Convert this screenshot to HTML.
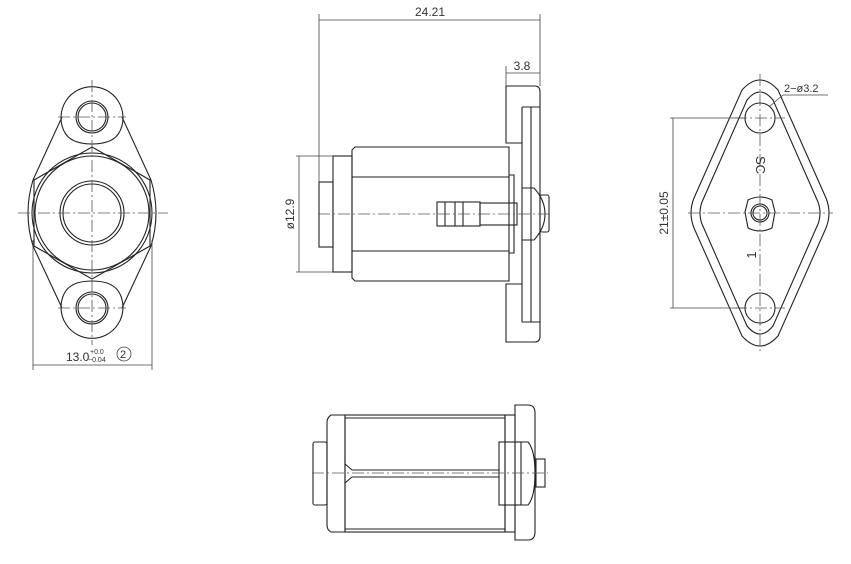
<!DOCTYPE html>
<html><head><meta charset="utf-8"><style>
html,body{margin:0;padding:0;background:#fff;}
svg{display:block;}
text{font-family:"Liberation Sans",sans-serif;fill:#333;}
</style></head><body>
<svg width="851" height="564" viewBox="0 0 851 564" xmlns="http://www.w3.org/2000/svg">
<g fill="none" stroke="#222" stroke-width="1.1">
<!-- LEFT VIEW -->
<path d="M64 131 A31 31 0 1 1 120 131"/>
<path d="M64 131 Q70 144 92 144 Q114 144 120 131"/>
<circle cx="92" cy="117" r="16"/><circle cx="92" cy="117" r="14"/>
<path d="M64 294 A31 31 0 1 0 120 294"/>
<path d="M64 294 Q70 281 92 281 Q114 281 120 294"/>
<circle cx="92" cy="308" r="16"/><circle cx="92" cy="308" r="14"/>
<line x1="62" y1="117" x2="33" y2="180"/><line x1="122" y1="117" x2="151" y2="180"/>
<line x1="62" y1="308" x2="33" y2="246"/><line x1="122" y1="308" x2="151" y2="246"/>
<path d="M33 180 Q23 213 33 246"/><path d="M151 180 Q161 213 151 246"/>
<polygon points="92,147 150,180 150,246 92,279 34,246 34,180"/>
<circle cx="92" cy="213" r="60"/><circle cx="92" cy="213" r="57"/>
<circle cx="92" cy="213" r="32"/><circle cx="92" cy="213" r="29"/>
</g>
<g fill="none" stroke="#555" stroke-width="0.8" stroke-dasharray="12,3,2,3">
<line x1="92" y1="80" x2="92" y2="345"/><line x1="18" y1="213" x2="168" y2="213"/>
<line x1="58" y1="117" x2="126" y2="117"/><line x1="58" y1="308" x2="126" y2="308"/>
</g>
<g stroke="#444" stroke-width="0.8">
<line x1="33" y1="240" x2="33" y2="370"/><line x1="152" y1="240" x2="152" y2="370"/>
<line x1="33" y1="365" x2="152" y2="365"/>
</g>
<text x="66" y="361" font-size="12">13.0</text>
<text x="90" y="354" font-size="7">+0.0</text>
<text x="88" y="362" font-size="7">−0.04</text>
<circle cx="124" cy="354" r="7" fill="none" stroke="#444" stroke-width="0.8"/>
<text x="120" y="358" font-size="11">2</text>

<!-- MIDDLE VIEW -->
<g fill="none" stroke="#222" stroke-width="1.1">
<rect x="319" y="182" width="14" height="65"/>
<rect x="333" y="156" width="19" height="116"/>
<path d="M352 150 L355 147 L509 147 L509 281 L355 281 L352 278 Z"/>
<line x1="352" y1="177" x2="509" y2="177"/><line x1="352" y1="251" x2="509" y2="251"/>
<path d="M506 86 L535 86 Q540 86 540 92 L540 336 Q540 342 535 342 L506 342 L506 284 L522 284 M506 86 L506 143 L522 143"/>
<line x1="522" y1="107" x2="522" y2="322"/><line x1="522" y1="107" x2="540" y2="107"/><line x1="522" y1="322" x2="540" y2="322"/>
<line x1="531" y1="107" x2="531" y2="322"/>
<path d="M509 175 L514 175 L514 253 L509 253"/>
<path d="M522 188 L534 188 Q545 200 545 214 Q545 228 534 240 L522 240"/>
<rect x="540" y="195" width="9" height="37" rx="2"/>
<rect x="437" y="202" width="43" height="24"/>
<line x1="445" y1="202" x2="445" y2="226"/><line x1="455" y1="202" x2="455" y2="226"/><line x1="463" y1="202" x2="463" y2="226"/>
<rect x="480" y="203" width="37" height="22"/>
</g>
<g stroke="#555" stroke-width="0.8" stroke-dasharray="12,3,2,3"><line x1="318" y1="214" x2="552" y2="214"/></g>
<g stroke="#444" stroke-width="0.8">
<line x1="319" y1="14" x2="319" y2="182"/><line x1="540" y1="14" x2="540" y2="86"/>
<line x1="319" y1="20" x2="540" y2="20"/>
<line x1="506" y1="66" x2="506" y2="86"/><line x1="506" y1="73" x2="540" y2="73"/>
<line x1="296" y1="156" x2="333" y2="156"/><line x1="296" y1="272" x2="333" y2="272"/>
<line x1="299" y1="156" x2="299" y2="272"/>
</g>
<text x="430" y="16" font-size="12" text-anchor="middle">24.21</text>
<text x="522" y="70" font-size="12" text-anchor="middle">3.8</text>
<text x="0" y="0" font-size="12" text-anchor="middle" transform="translate(294,214) rotate(-90)">ø12.9</text>

<!-- RIGHT VIEW -->
<g fill="none" stroke="#222" stroke-width="1.1">
<path d="M742 90 Q760 70 778 90 L826 198 Q832 213 826 228 L778 336 Q760 356 742 336 L694 228 Q688 213 694 198 Z"/>
<path d="M747 100 Q760 84 773 100 L818 202 Q822 213 818 224 L773 326 Q760 342 747 326 L702 224 Q698 213 702 202 Z"/>
<circle cx="760" cy="118" r="15"/><circle cx="760" cy="308" r="15"/>
<circle cx="760" cy="213" r="9"/><circle cx="760" cy="213" r="7"/>
<path d="M748 200 Q760 194 772 200 L775 212 L772 228 Q760 234 748 228 L745 212 Z"/>
</g>
<g stroke="#555" stroke-width="0.8" stroke-dasharray="12,3,2,3">
<line x1="760" y1="74" x2="760" y2="352"/><line x1="688" y1="213" x2="833" y2="213"/>
<line x1="735" y1="118" x2="785" y2="118"/><line x1="735" y1="308" x2="785" y2="308"/>
</g>
<g stroke="#444" stroke-width="0.8">
<line x1="670" y1="118" x2="745" y2="118"/><line x1="670" y1="308" x2="745" y2="308"/>
<line x1="673" y1="118" x2="673" y2="308"/>
<line x1="770" y1="106" x2="783" y2="95"/><line x1="783" y1="95" x2="828" y2="95"/>
</g>
<text x="784" y="92" font-size="11">2−ø3.2</text>
<text x="0" y="0" font-size="12" text-anchor="middle" transform="translate(668,213) rotate(-90)">21±0.05</text>
<text x="0" y="0" font-size="13" text-anchor="middle" transform="translate(756,165) rotate(90)">SC</text>
<text x="0" y="0" font-size="13" text-anchor="middle" transform="translate(756,255) rotate(-90)">1</text>

<!-- BOTTOM VIEW -->
<g fill="none" stroke="#222" stroke-width="1.1">
<rect x="313" y="442" width="14" height="63" rx="2"/>
<path d="M345 415 L331 415 Q327 418 327 422 L327 525 Q327 530 331 532 L345 532 Z"/>
<rect x="345" y="415" width="160" height="117"/>
<line x1="345" y1="418" x2="505" y2="418"/><line x1="345" y1="529" x2="505" y2="529"/>
<line x1="352" y1="470" x2="499" y2="470"/><line x1="352" y1="477" x2="499" y2="477"/>
<path d="M345 464 L352 470 M345 483 L352 477"/>
<rect x="505" y="415" width="10" height="117"/>
<path d="M515 405 L528 405 Q535 405 535 413 L535 532 Q535 540 528 540 L515 540 Z"/>
<rect x="499" y="442" width="22" height="63"/>
<path d="M521 442 L528 442 Q535 450 535 473 Q535 497 528 505 L521 505"/>
<rect x="536" y="459" width="9" height="28"/>
</g>
<g stroke="#555" stroke-width="0.8" stroke-dasharray="12,3,2,3"><line x1="312" y1="473" x2="548" y2="473"/></g>
</svg>
</body></html>
